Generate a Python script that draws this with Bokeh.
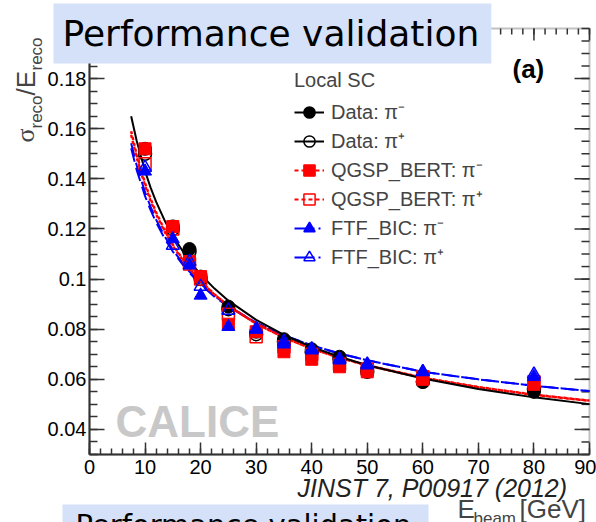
import math
from bokeh.plotting import figure
from bokeh.models import Range1d, FixedTicker, LinearAxis, Label, Legend, LegendItem, BoxAnnotation
from bokeh.embed import file_html
from bokeh.resources import INLINE

# ---------------- data ----------------
energy = [10, 15, 18, 20, 25, 30, 35, 40, 45, 50, 60, 80]
data_pim = [0.152, 0.121, 0.112, 0.101, 0.089, 0.079, 0.076, 0.072, 0.069, 0.064, 0.059, 0.055]
data_pip = [0.150, 0.120, 0.111, 0.100, 0.088, 0.078, 0.075, 0.071, 0.068, 0.063, 0.059, 0.056]
qgsp_pim = [0.152, 0.121, 0.107, 0.101, 0.082, 0.079, 0.071, 0.068, 0.065, 0.063, 0.060, 0.058]
qgsp_pip = [0.146, 0.120, 0.106, 0.100, 0.086, 0.077, 0.073, 0.070, 0.066, 0.064, 0.061, 0.059]
ftf_pim = [0.143, 0.116, 0.1055, 0.0935, 0.081, 0.080, 0.074, 0.0716, 0.0676, 0.0656, 0.063, 0.061]
ftf_pip = [0.1445, 0.1134, 0.107, 0.097, 0.0875, 0.080, 0.075, 0.072, 0.068, 0.066, 0.063, 0.062]

fit_energy = [7.5, 8.5, 10, 11, 12, 13.5, 15, 17.5, 20, 22.5, 25, 30, 35, 40, 45, 50, 60, 70, 80, 90]
fit_data = [0.165, 0.1551, 0.1431, 0.1365, 0.1308, 0.1235, 0.1172, 0.1087, 0.1018, 0.0962, 0.0914,
            0.0837, 0.0777, 0.0729, 0.0690, 0.0656, 0.0603, 0.0561, 0.0528, 0.0501]
fit_qgsp_pim = [0.159, 0.1496, 0.1382, 0.1320, 0.1266, 0.1196, 0.1137, 0.1057, 0.0992, 0.0939, 0.0894,
                0.0822, 0.0767, 0.0722, 0.0686, 0.0655, 0.0606, 0.0568, 0.0538, 0.0514]
fit_qgsp_pip = [0.1575, 0.1484, 0.1373, 0.1312, 0.1259, 0.1190, 0.1132, 0.1054, 0.0990, 0.0938, 0.0893,
                0.0822, 0.0767, 0.0722, 0.0687, 0.0656, 0.0607, 0.0569, 0.0539, 0.0515]
fit_ftf_pim = [0.1542, 0.1453, 0.1346, 0.1288, 0.1237, 0.1172, 0.1117, 0.1042, 0.0982, 0.0933, 0.0892,
               0.0826, 0.0776, 0.0736, 0.0703, 0.0676, 0.0630, 0.0600, 0.0574, 0.0553]
fit_ftf_pip = [0.1522, 0.1435, 0.1331, 0.1275, 0.1226, 0.1163, 0.1110, 0.1037, 0.0978, 0.0930, 0.0890,
               0.0825, 0.0775, 0.0735, 0.0703, 0.0676, 0.0630, 0.0600, 0.0574, 0.0553]

x_ticks = [0, 10, 20, 30, 40, 50, 60, 70, 80, 90]
y_ticks = [0.04, 0.06, 0.08, 0.1, 0.12, 0.14, 0.16, 0.18]
y_tick_labels = ["0.04", "0.06", "0.08", "0.1", "0.12", "0.14", "0.16", "0.18"]
legend_labels = ["Data: π⁻", "Data: π⁺", "QGSP_BERT: π⁻", "QGSP_BERT: π⁺", "FTF_BIC: π⁻", "FTF_BIC: π⁺"]

# ---------------- geometry ----------------
W, H = 596, 522
FR_L, FR_R, FR_T, FR_B = 89, 589, 28, 454      # pixel box of the axes frame
X0, X1, Y0, Y1 = 0, 90, 0.03, 0.2              # axis limits
KX = (X1 - X0) / (FR_R - FR_L)
KY = (Y1 - Y0) / (FR_B - FR_T)


def dx(px):
    return X0 + (px - FR_L) * KX


def dy(py):
    return Y0 + (FR_B - py) * KY


# whole canvas is the bokeh frame; axes are placed at fixed locations
p = figure(width=W, height=H, output_backend="svg", toolbar_location=None,
           x_range=Range1d(dx(0), dx(W)), y_range=Range1d(dy(H), dy(0)),
           min_border=0, min_border_left=0, min_border_right=0,
           min_border_top=0, min_border_bottom=0,
           x_axis_type=None, y_axis_type=None)
p.outline_line_color = None
p.xgrid.visible = False
p.ygrid.visible = False
p.background_fill_color = "white"
p.border_fill_color = "white"

AX_COL = "#333333"
minor_x = list(range(0, 91, 2))
minor_y = [round(0.03 + 0.005 * i, 3) for i in range(35)]


def style_axis(ax, xdir):
    ax.axis_line_color = AX_COL
    ax.axis_line_width = 2
    ax.major_tick_line_color = AX_COL
    ax.minor_tick_line_color = AX_COL
    ax.major_tick_line_width = 1.5
    ax.minor_tick_line_width = 1.5
    ax.major_tick_out = 0
    ax.minor_tick_out = 0
    ax.major_label_text_font = "Liberation Sans"
    ax.major_label_text_font_size = "20px"
    ax.major_label_text_color = "black"
    if xdir:
        ax.ticker = FixedTicker(ticks=x_ticks, minor_ticks=minor_x)
        ax.major_tick_in = 12
        ax.minor_tick_in = 6
    else:
        ax.ticker = FixedTicker(ticks=y_ticks, minor_ticks=minor_y)
        ax.major_tick_in = 15
        ax.minor_tick_in = 8


xb = LinearAxis(fixed_location=Y0, bounds=(X0, X1))
style_axis(xb, True)
xb.major_label_standoff = 5
p.add_layout(xb, "below")
yl = LinearAxis(fixed_location=X0, bounds=(Y0, Y1))
style_axis(yl, False)
yl.major_label_standoff = 3
yl.major_label_overrides = {t: s for t, s in zip(y_ticks, y_tick_labels)}
p.add_layout(yl, "left")

# frame box and the inward ticks of the top and right edges
p.add_layout(BoxAnnotation(left=X0, right=X1, bottom=Y0, top=Y1, fill_alpha=0,
                           line_color=AX_COL, line_width=2))
p.ray(x=[X1] * len(y_ticks), y=y_ticks, length=15, length_units="screen", angle=math.pi,
      line_color=AX_COL, line_width=1.5)
p.ray(x=[X1] * len(minor_y), y=minor_y, length=8, length_units="screen", angle=math.pi,
      line_color=AX_COL, line_width=1.5)
p.ray(x=x_ticks, y=[Y1] * len(x_ticks), length=12, length_units="screen", angle=-math.pi / 2,
      line_color=AX_COL, line_width=1.5)
p.ray(x=minor_x, y=[Y1] * len(minor_x), length=6, length_units="screen", angle=-math.pi / 2,
      line_color=AX_COL, line_width=1.5)

# ---------------- fit curves ----------------
p.line(fit_energy, fit_ftf_pip, line_color="blue", line_width=2, line_dash="14 6")
p.line(fit_energy, fit_ftf_pim, line_color="blue", line_width=2, line_dash="14 6")
p.line(fit_energy, fit_qgsp_pip, line_color="red", line_width=2.5, line_dash="3 3")
p.line(fit_energy, fit_qgsp_pim, line_color="red", line_width=2.5, line_dash="3 3")
p.line(fit_energy, fit_data, line_color="black", line_width=2)

# ---------------- markers ----------------
p.scatter(energy, data_pip, marker="circle", size=13, fill_color=None, line_color="black", line_width=1.5)
p.scatter(energy, data_pim, marker="circle", size=13, fill_color="black", line_color="black")
p.scatter(energy, qgsp_pip, marker="square", size=12, fill_color=None, line_color="red", line_width=1.5)
p.scatter(energy, qgsp_pim, marker="square", size=12, fill_color="red", line_color="red")
p.scatter(energy, ftf_pip, marker="triangle", size=13, fill_color=None, line_color="blue", line_width=1.5)
p.scatter(energy, ftf_pim, marker="triangle", size=13, fill_color="blue", line_color="blue")

# ---------------- legend ----------------
leg_styles = [
    ("black", None, "circle", "black"),
    ("black", None, "circle", None),
    ("red", "4 3", "square", "red"),
    ("red", "4 3", "square", None),
    ("blue", "20 4 2 10", "triangle", "blue"),
    ("blue", "20 4 2 10", "triangle", None),
]
nan = float("nan")
items = []
for lab, (col, dash, mk, fill) in zip(legend_labels, leg_styles):
    lkw = dict(line_color=col, line_width=2)
    if dash:
        lkw["line_dash"] = dash
    lr = p.line([nan], [nan], **lkw)
    sr = p.scatter([nan], [nan], marker=mk, size=11, fill_color=fill, line_color=col, line_width=1.5)
    items.append(LegendItem(label=lab, renderers=[lr, sr]))

legend = Legend(items=items, location=(294, H - 271), title="Local SC",
                title_text_font="Liberation Sans", title_text_font_size="20px",
                title_text_font_style="normal", title_standoff=5,
                label_text_font="Liberation Sans", label_text_font_size="20px",
                glyph_width=30, glyph_height=28, label_height=29, label_standoff=7,
                padding=0, margin=0, spacing=0,
                border_line_color=None, background_fill_alpha=0)
p.add_layout(legend)


# ---------------- texts ----------------
def label(px_, py_, text, **kw):
    p.add_layout(Label(x=dx(px_), y=dy(py_), text=text, **kw))


# padding order: (top, right, bottom, left); the anchor is the padded box
label(53, 33, "Performance validation", text_font="DejaVu Sans", text_font_size="36px",
      text_color="black", text_baseline="middle", text_align="left",
      background_fill_color="#d4e1f8", padding=(9, 12, 9, 10))
# second (cut-off) title box at the bottom edge
p.add_layout(BoxAnnotation(left=dx(62), right=dx(428), top=dy(504), bottom=dy(545),
                           fill_color="#d4e1f8", fill_alpha=1, line_alpha=0))
label(75, 524, "Performance validation", text_font="DejaVu Sans", text_font_size="29px",
      text_color="black", text_baseline="alphabetic", text_align="left")
label(512, 68, "(a)", text_font="Liberation Sans", text_font_size="26px", text_font_style="bold",
      text_color="black", text_baseline="middle")
label(115, 421, "CALICE", text_font="Liberation Sans", text_font_size="44px", text_font_style="bold",
      text_color="#c8c8c8", text_baseline="alphabetic")
label(297, 487, "JINST 7, P00917 (2012)", text_font="Liberation Sans", text_font_size="25px",
      text_font_style="italic", text_color="#222222", text_baseline="alphabetic")
# x-axis title
label(457, 508, "E", text_font="Liberation Sans", text_font_size="26px", text_baseline="alphabetic")
label(473, 518, "beam", text_font="Liberation Sans", text_font_size="17px", text_baseline="alphabetic")
label(519, 508, "[GeV]", text_font="Liberation Sans", text_font_size="26px", text_baseline="alphabetic")
# y-axis title (rotated)
rot = math.pi / 2
label(25, 142, "σ", text_font="Liberation Serif", text_font_size="26px", angle=rot, text_baseline="alphabetic")
label(36, 128, "reco", text_font="Liberation Sans", text_font_size="17px", angle=rot, text_baseline="alphabetic")
label(25, 95, "/E", text_font="Liberation Sans", text_font_size="26px", angle=rot, text_baseline="alphabetic")
label(36, 70, "reco", text_font="Liberation Sans", text_font_size="17px", angle=rot, text_baseline="alphabetic")

open("out.html", "w").write(file_html(p, INLINE))
